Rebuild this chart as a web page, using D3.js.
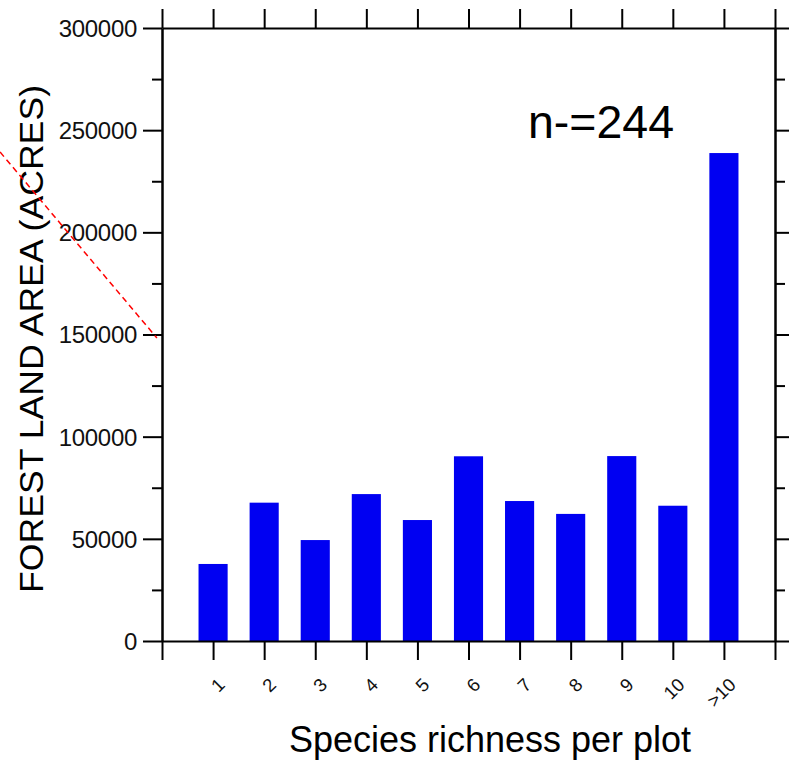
<!DOCTYPE html>
<html>
<head>
<meta charset="utf-8">
<script src="https://cdn.jsdelivr.net/npm/d3@7"></script>
<style>
  html, body { margin: 0; padding: 0; background: #ffffff; }
  svg { display: block; font-family: "Liberation Sans", Arial, Helvetica, sans-serif; }
</style>
</head>
<body>
<svg id="chart" width="789" height="760"></svg>
<script>
// ---- data ----
const categories = ["1", "2", "3", "4", "5", "6", "7", "8", "9", "10", ">10"];
const areaValues = [37700, 67700, 49400, 71900, 59200, 90400, 68500, 62200, 90500, 66200, 238800];
const yMajorTicks = [0, 50000, 100000, 150000, 200000, 250000, 300000];
const yMinorTicks = [25000, 75000, 125000, 175000, 225000, 275000];
const annotationText = "n-=244";
const yTitle = "FOREST LAND AREA (ACRES)";
const xTitle = "Species richness per plot";
// red dashed annotation line, in data units (category position, acres)
const annoLineX = [-3.17, -0.1];
const annoLineY = [239300, 148300];

// ---- layout ----
const svg = d3.select("#chart");
const mLeft = 162, mRight = 775, mTop = 28, mBottom = 641;
const x = d3.scaleLinear().domain([0, categories.length + 1]).range([mLeft, mRight]);
const y = d3.scaleLinear().domain([0, 300000]).range([mBottom, mTop]);
const step = x(1) - x(0);
const bw = step * 0.57;
const positions = d3.range(0, categories.length + 2);

// bars
svg.append("g").selectAll("rect").data(areaValues).join("rect")
  .attr("x", (d, i) => x(i + 1) - bw / 2)
  .attr("y", d => y(d))
  .attr("width", bw)
  .attr("height", d => y(0) - y(d))
  .attr("fill", "#0000f2");

function styleAxis(g) {
  g.selectAll("path.domain").attr("stroke", "#000").attr("stroke-width", 2);
  g.selectAll(".tick line").attr("stroke", "#000").attr("stroke-width", 2);
}

// left axis (major with labels)
const gl = svg.append("g").attr("transform", `translate(${mLeft},0)`)
  .call(d3.axisLeft(y).tickValues(yMajorTicks).tickSize(19).tickSizeOuter(0).tickPadding(6)
    .tickFormat(d3.format("d")));
styleAxis(gl);
gl.selectAll(".tick text").attr("font-size", 24).attr("fill", "#111")
  .attr("font-family", "'Liberation Sans', Arial, sans-serif").attr("dy", "0.35em")
  .attr("letter-spacing", "-0.3px");
// left minor
const glm = svg.append("g").attr("transform", `translate(${mLeft},0)`)
  .call(d3.axisLeft(y).tickValues(yMinorTicks).tickSize(10).tickSizeOuter(0).tickFormat(""));
styleAxis(glm);

// right axis
const gr = svg.append("g").attr("transform", `translate(${mRight},0)`)
  .call(d3.axisRight(y).tickValues(yMajorTicks).tickSize(19).tickSizeOuter(0).tickFormat(""));
styleAxis(gr);
const grm = svg.append("g").attr("transform", `translate(${mRight},0)`)
  .call(d3.axisRight(y).tickValues(yMinorTicks).tickSize(10).tickSizeOuter(0).tickFormat(""));
styleAxis(grm);

// bottom axis
const gb = svg.append("g").attr("transform", `translate(0,${mBottom})`)
  .call(d3.axisBottom(x).tickValues(positions).tickSize(19).tickSizeOuter(0).tickFormat(""));
styleAxis(gb);
// top axis
const gt = svg.append("g").attr("transform", `translate(0,${mTop})`)
  .call(d3.axisTop(x).tickValues(positions).tickSize(19).tickSizeOuter(0).tickFormat(""));
styleAxis(gt);

// rotated category labels
svg.append("g").selectAll("text").data(categories).join("text")
  .attr("transform", (d, i) => `translate(${x(i + 1) + 13},${686}) rotate(-45)`)
  .attr("text-anchor", "end")
  .attr("font-size", 18.5)
  .attr("fill", "#111")
  .text(d => d);

// axis titles
svg.append("text")
  .attr("transform", `translate(43,${339}) rotate(-90)`)
  .attr("text-anchor", "middle")
  .attr("font-size", 33)
  .attr("textLength", 508)
  .attr("lengthAdjust", "spacingAndGlyphs")
  .attr("fill", "#000")
  .text(yTitle);

svg.append("text")
  .attr("x", 490).attr("y", 752)
  .attr("text-anchor", "middle")
  .attr("font-size", 36)
  .attr("fill", "#000")
  .text(xTitle);

// n annotation
svg.append("text")
  .attr("x", 528).attr("y", 138)
  .attr("font-size", 46.5)
  .attr("fill", "#000")
  .text(annotationText);

// red dashed line
svg.append("line")
  .attr("x1", x(annoLineX[0])).attr("y1", y(annoLineY[0]))
  .attr("x2", x(annoLineX[1])).attr("y2", y(annoLineY[1]))
  .attr("stroke", "#ff0000").attr("stroke-width", 1.5)
  .attr("stroke-dasharray", "6,4");
</script>
</body>
</html>
